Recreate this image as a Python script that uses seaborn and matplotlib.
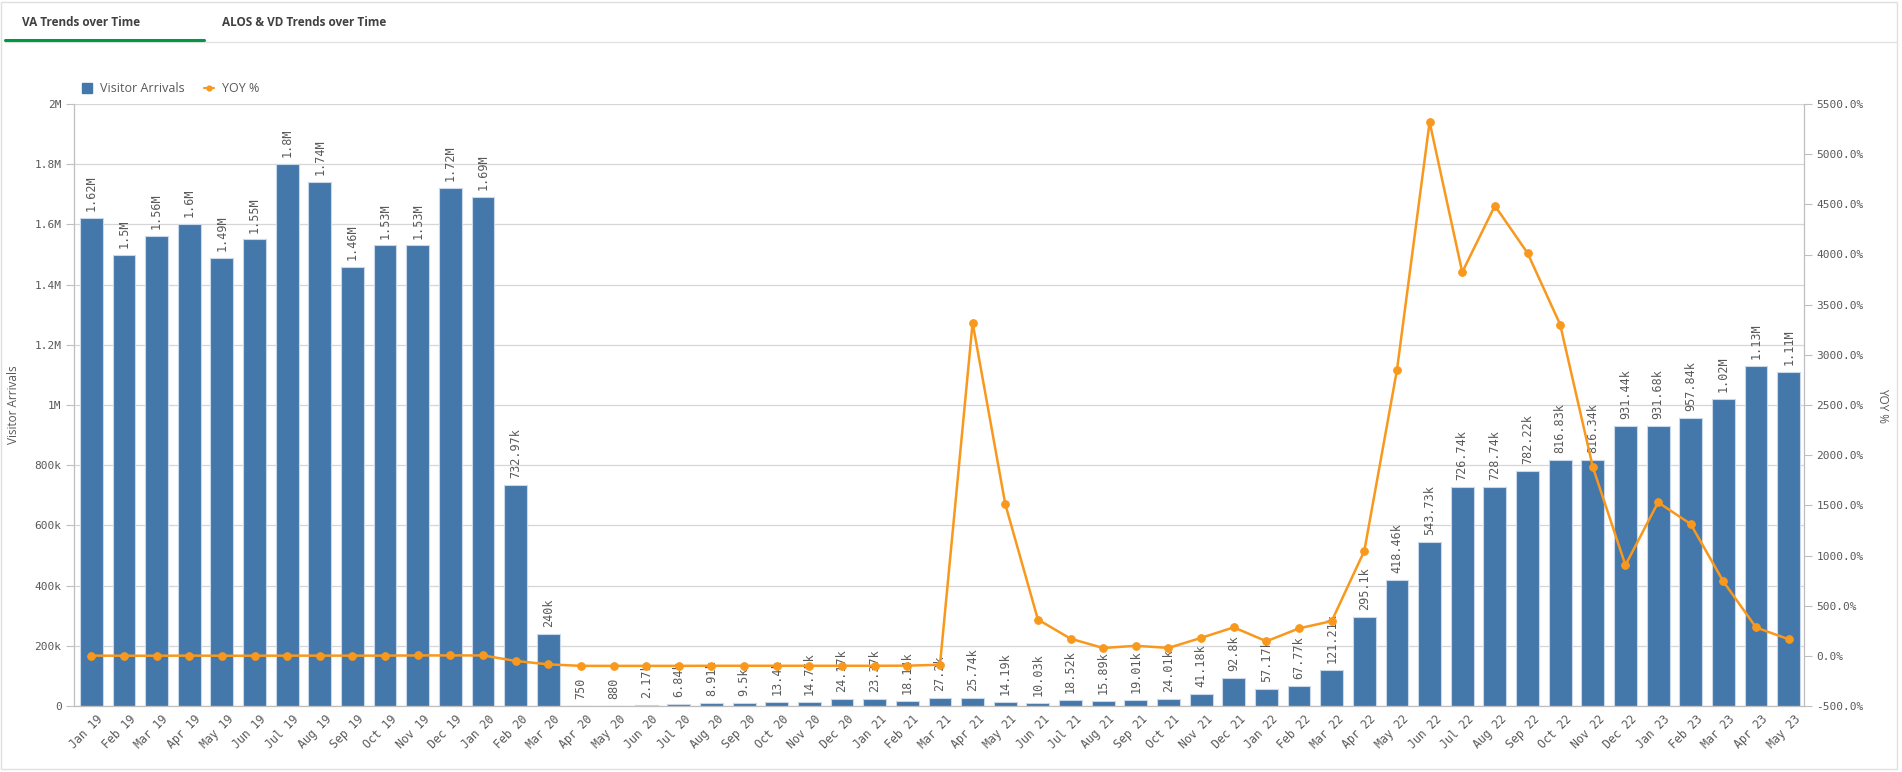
import numpy as np
import pandas as pd
import matplotlib.pyplot as plt
import matplotlib.ticker as mticker
import matplotlib.transforms as mtransforms
from matplotlib.lines import Line2D
from matplotlib.patches import Patch, Rectangle
import seaborn as sns

# Month categories (Jan 19 .. May 23)
months = ['Jan 19', 'Feb 19', 'Mar 19', 'Apr 19', 'May 19', 'Jun 19', 'Jul 19', 'Aug 19',
          'Sep 19', 'Oct 19', 'Nov 19', 'Dec 19',
          'Jan 20', 'Feb 20', 'Mar 20', 'Apr 20', 'May 20', 'Jun 20', 'Jul 20', 'Aug 20',
          'Sep 20', 'Oct 20', 'Nov 20', 'Dec 20',
          'Jan 21', 'Feb 21', 'Mar 21', 'Apr 21', 'May 21', 'Jun 21', 'Jul 21', 'Aug 21',
          'Sep 21', 'Oct 21', 'Nov 21', 'Dec 21',
          'Jan 22', 'Feb 22', 'Mar 22', 'Apr 22', 'May 22', 'Jun 22', 'Jul 22', 'Aug 22',
          'Sep 22', 'Oct 22', 'Nov 22', 'Dec 22',
          'Jan 23', 'Feb 23', 'Mar 23', 'Apr 23', 'May 23']

# Visitor arrivals (bars)
visitors = [1.62e6, 1.50e6, 1.56e6, 1.60e6, 1.49e6, 1.55e6, 1.80e6, 1.74e6,
            1.46e6, 1.53e6, 1.53e6, 1.72e6,
            1.69e6, 732970, 240000, 750, 880, 2170, 6840, 8910,
            9500, 13400, 14750, 24170,
            23370, 18140, 27200, 25740, 14190, 10030, 18520, 15890,
            19010, 24010, 41180, 92800,
            57170, 67770, 121210, 295100, 418460, 543730, 726740, 728740,
            782220, 816830, 816340, 931440,
            931680, 957840, 1.02e6, 1.13e6, 1.11e6]

# YOY % (line, right axis)
yoy = [2, 1, 1, 2, 1, 1, 2, 2, 2, 2, 4, 4,
       4, -51, -85, -100, -100, -100, -100, -99, -99, -99, -99, -99,
       -99, -98, -89, 3320, 1512, 362, 171, 78, 100, 79, 179, 284,
       145, 274, 346, 1046, 2849, 5321, 3824, 4486, 4015, 3302, 1882, 904,
       1530, 1313, 741, 283, 165]

BLUE = '#4477aa'
ORANGE = '#f8981d'
GREY = '#595959'
GRID = '#d6d6d6'
MONO = 'DejaVu Sans Mono'

sns.set_theme(style='white')
plt.rcParams['font.family'] = ['Open Sans', 'DejaVu Sans']

df = pd.DataFrame({'month': months, 'visitors': visitors, 'yoy': yoy})
df['idx'] = np.arange(len(df))


def short(v):
    if v >= 1e6:
        s = f"{v / 1e6:.2f}".rstrip('0').rstrip('.')
        return s + 'M'
    if v >= 1000:
        s = f"{v / 1e3:.2f}".rstrip('0').rstrip('.')
        return s + 'k'
    return f"{v:.0f}"


fig = plt.figure(figsize=(19.02, 7.72), dpi=100)
ax = fig.add_axes([74 / 1902, 66 / 772, 1730 / 1902, 602 / 772])

sns.barplot(data=df, x='month', y='visitors', color=BLUE, saturation=1,
            width=0.7, edgecolor='#c9d8ea', linewidth=0.8, ax=ax, zorder=2)
ax.bar_label(ax.containers[0], labels=[short(v) for v in visitors], rotation=90,
             padding=5, fontsize=8.5, color=GREY, fontfamily=MONO)

ax.set_ylim(0, 2e6)
ax.set_xlim(-0.53, 52.47)
ax.yaxis.set_major_locator(mticker.MultipleLocator(2e5))
ax.yaxis.set_major_formatter(mticker.FuncFormatter(lambda v, p: short(v) if v > 0 else '0'))
ax.grid(axis='y', color=GRID, linewidth=0.9, zorder=0)
ax.set_axisbelow(True)
ax.set_xlabel('')
ax.set_ylabel('Visitor Arrivals', fontsize=8.5, color=GREY)
ax.yaxis.set_label_coords(-0.031, 0.5)
ax.tick_params(axis='y', length=6, width=0.8, color='#bfbfbf', labelsize=8,
               labelcolor=GREY, pad=3, left=True)
ax.tick_params(axis='x', length=0, labelsize=8.3, labelcolor=GREY, pad=5)
plt.setp(ax.get_yticklabels(), fontfamily=MONO)
shift = mtransforms.ScaledTranslation(5 / 100, 0, fig.dpi_scale_trans)
for lab in ax.get_xticklabels():
    lab.set_rotation(45)
    lab.set_ha('right')
    lab.set_rotation_mode('anchor')
    lab.set_fontfamily(MONO)
    lab.set_transform(lab.get_transform() + shift)
for side in ['top', 'right']:
    ax.spines[side].set_visible(False)
for side in ['left', 'bottom']:
    ax.spines[side].set_color('#bfbfbf')
    ax.spines[side].set_linewidth(0.9)

ax2 = ax.twinx()
sns.lineplot(data=df, x='idx', y='yoy', color=ORANGE, linewidth=1.8, marker='o',
             markersize=5.5, markeredgecolor=ORANGE, ax=ax2)
ax2.set_ylim(-500, 5500)
ax2.yaxis.set_major_locator(mticker.MultipleLocator(500))
ax2.yaxis.set_major_formatter(mticker.FuncFormatter(lambda v, p: f"{v:.1f}%"))
ax2.set_ylabel('YOY %', fontsize=8.5, color=GREY, rotation=270)
ax2.yaxis.set_label_coords(1.049, 0.5)
ax2.tick_params(axis='y', length=6, width=0.8, color='#bfbfbf', labelsize=8,
                labelcolor=GREY, pad=3, right=True)
plt.setp(ax2.get_yticklabels(), fontfamily=MONO)
ax2.set_xlabel('')
for side in ['top', 'left', 'bottom']:
    ax2.spines[side].set_visible(False)
ax2.spines['right'].set_color('#bfbfbf')
ax2.spines['right'].set_linewidth(0.9)
ax2.grid(False)

# legend
handles = [Patch(facecolor=BLUE, edgecolor=BLUE),
           Line2D([0], [0], color=ORANGE, marker='o', markersize=3.5, linewidth=1.5)]
leg = fig.legend(handles, ['Visitor Arrivals', 'YOY %'], loc='center left',
                 bbox_to_anchor=(82 / 1902, 1 - 89 / 772), ncol=2, frameon=False,
                 fontsize=9, handlelength=0.8, handleheight=0.8, handletextpad=0.6,
                 columnspacing=1.6, borderpad=0, borderaxespad=0)
for t in leg.get_texts():
    t.set_color(GREY)

# header tabs and panel frame
fig.text(22 / 1902, 1 - 22 / 772, 'VA Trends over Time', fontsize=8.5, fontweight='bold',
         color='#404040', va='center', ha='left')
fig.text(222 / 1902, 1 - 22 / 772, 'ALOS & VD Trends over Time', fontsize=8.5,
         fontweight='bold', color='#404040', va='center', ha='left')
fig.add_artist(Line2D([5 / 1902, 1897 / 1902], [1 - 41.5 / 772, 1 - 41.5 / 772],
                      color='#e3e3e3', linewidth=1, transform=fig.transFigure))
fig.add_artist(Line2D([5 / 1902, 204 / 1902], [1 - 39.5 / 772, 1 - 39.5 / 772],
                      color='#009845', linewidth=2.2, transform=fig.transFigure))
fig.add_artist(Rectangle((1 / 1902, 3 / 772), 1896 / 1902, 767 / 772, fill=False,
                         edgecolor='#e0e0e0', linewidth=1, transform=fig.transFigure))

fig.savefig('out.png', dpi=100)
